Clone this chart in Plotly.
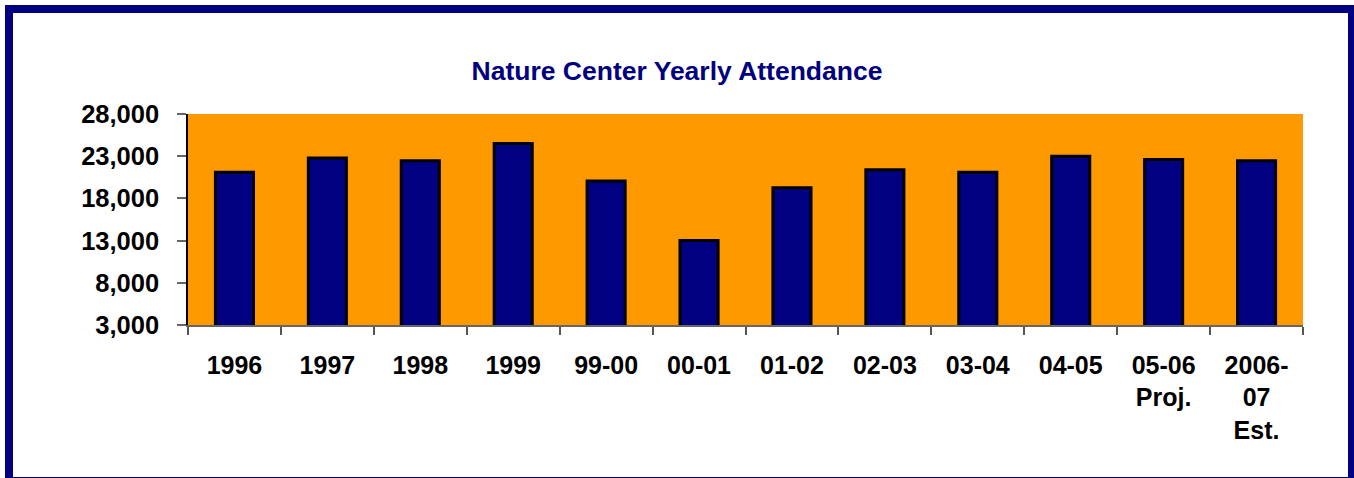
import plotly.graph_objects as go

categories = ["1996", "1997", "1998", "1999", "99-00", "00-01", "01-02", "02-03",
              "03-04", "04-05", "05-06<br>Proj.", "2006-<br>07<br>Est."]
attendance = [21100, 22800, 22450, 24500, 20050, 13000, 19250, 21400,
              21100, 23000, 22600, 22450]
y_ticks = [3000, 8000, 13000, 18000, 23000, 28000]

W, H = 1354, 478
L, R, T, B = 188, 51, 114, 153
pw, ph = W - L - R, H - T - B

def px_x(p):
    return (p - L) / pw

def px_y(p):
    return (H - B - p) / ph

FONT = "Liberation Sans, Arial, sans-serif"

fig = go.Figure(go.Bar(
    x=categories, y=attendance,
    marker=dict(color="#000080", line=dict(color="#000000", width=3)),
    hoverinfo="x+y",
))

fig.update_layout(
    width=W, height=H,
    margin=dict(l=L, r=R, t=T, b=B),
    paper_bgcolor="white",
    plot_bgcolor="#FF9900",
    bargap=0.59,
    showlegend=False,
    title=dict(text="<b>Nature Center Yearly Attendance</b>",
               font=dict(family=FONT, size=26.5, color="#000080"),
               x=0.5, xref="container", xanchor="center",
               y=1 - 71 / H, yref="container", yanchor="middle"),
    font=dict(family=FONT, color="black"),
    shapes=[dict(type="rect", xref="paper", yref="paper",
                 x0=px_x(9), x1=px_x(1352), y0=px_y(481), y1=px_y(9),
                 line=dict(color="#000080", width=8), fillcolor="rgba(0,0,0,0)",
                 layer="below")],
)

fig.update_xaxes(
    type="category", tickson="boundaries", ticks="outside", ticklen=8,
    tickcolor="#555555", tickwidth=1.5,
    showline=True, linecolor="#666666", linewidth=1.5,
    showgrid=False, tickangle=0, ticklabelstandoff=17,
    tickfont=dict(family=FONT, size=25, color="black", weight="bold"),
)
fig.update_yaxes(
    range=[3000, 28000], tickvals=y_ticks, tickformat=",",
    ticks="outside", ticklen=9, tickcolor="#666666", tickwidth=1.5,
    showline=True, linecolor="black", linewidth=1.5,
    showgrid=False, zeroline=False, ticklabelstandoff=13,
    tickfont=dict(family=FONT, size=25.5, color="black", weight="bold"),
)

fig.write_html(
    "out.html",
    config={"displayModeBar": False},
    post_script="document.body.style.margin='0';document.body.style.overflow='hidden';",
)
